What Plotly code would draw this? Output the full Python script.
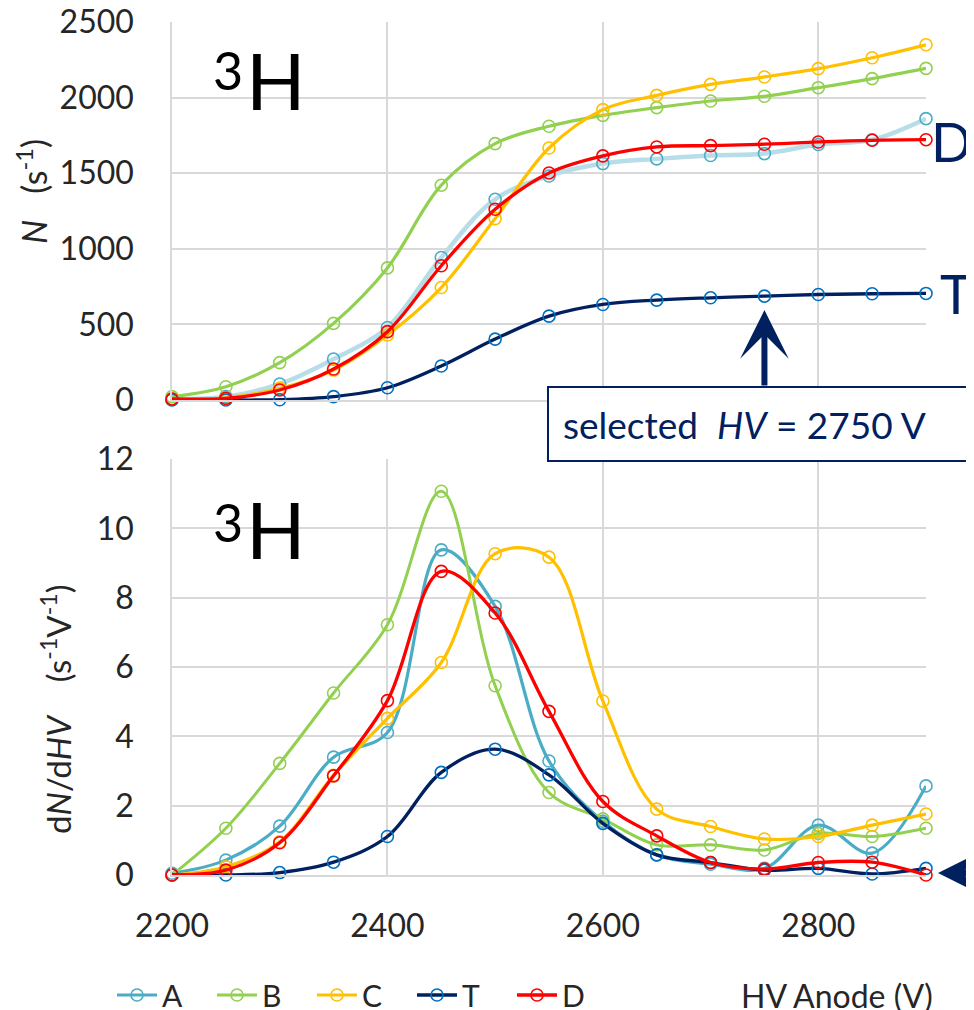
import plotly.graph_objects as go

# ---------------- data ----------------
HV = [2200, 2250, 2300, 2350, 2400, 2450, 2500, 2550, 2600, 2650, 2700, 2750, 2800, 2850, 2900]

N_A = [7, 22, 106, 271, 480, 943, 1328, 1482, 1564, 1595, 1617, 1630, 1690, 1722, 1861]
N_B = [22, 88, 247, 507, 874, 1421, 1696, 1811, 1883, 1934, 1978, 2009, 2066, 2126, 2194]
N_C = [7, 15, 77, 198, 430, 744, 1200, 1667, 1921, 2015, 2088, 2137, 2192, 2264, 2350]
N_T = [0, 0, 2, 22, 81, 225, 403, 555, 632, 661, 676, 687, 698, 703, 705]
N_D = [7, 11, 66, 205, 452, 888, 1262, 1502, 1615, 1674, 1683, 1692, 1707, 1718, 1722]

dN_A = [0.05, 0.43, 1.41, 3.40, 4.11, 9.38, 7.75, 3.29, 1.55, 0.58, 0.31, 0.19, 1.44, 0.63, 2.57]
dN_B = [0.0, 1.35, 3.22, 5.25, 7.22, 11.07, 5.46, 2.38, 1.62, 0.87, 0.87, 0.72, 1.20, 1.11, 1.35]
dN_C = [0.0, 0.24, 0.96, 2.88, 4.52, 6.13, 9.27, 9.17, 5.02, 1.90, 1.40, 1.04, 1.11, 1.44, 1.76]
dN_T = [0.0, 0.0, 0.07, 0.37, 1.11, 2.96, 3.63, 2.89, 1.49, 0.58, 0.36, 0.14, 0.19, 0.03, 0.19]
dN_D = [0.0, 0.14, 0.93, 2.86, 5.03, 8.76, 7.56, 4.72, 2.12, 1.13, 0.36, 0.17, 0.36, 0.37, 0.0]

SERIES = ["A", "B", "C", "T", "D"]
SELECTED_HV = 2750

# ---------------- styles ----------------
LINE_TOP = {"A": "#B7DEE8", "B": "#92D050", "C": "#FFC000", "T": "#002060", "D": "#FF0000"}
LINE_BOT = {"A": "#4BACC6", "B": "#92D050", "C": "#FFC000", "T": "#002060", "D": "#FF0000"}
MARK = {"A": "#4BACC6", "B": "#92D050", "C": "#FFC000", "T": "#0070C0", "D": "#FF0000"}
WIDTH_TOP = {"A": 4.5, "B": 3.2, "C": 3.2, "T": 3.3, "D": 3.3}
WIDTH_BOT = {"A": 3.2, "B": 3.0, "C": 3.2, "T": 3.3, "D": 3.3}

top_vals = {"A": N_A, "B": N_B, "C": N_C, "T": N_T, "D": N_D}
bot_vals = {"A": dN_A, "B": dN_B, "C": dN_C, "T": dN_T, "D": dN_D}

OFF = 8                       # default page body margin
W, H = 974 - OFF, 1010 - OFF
L, R, T, B = 172 - OFF, 48, 22 - OFF, 135
PW, PH = W - L - R, H - T - B
NAVY = "#002060"
FONT = "Lato"
TXT = "#262626"
GRID = "#D9D9D9"
NB = "\u00a0"


def px(xp):  # screen x -> paper
    return (xp - OFF - L) / PW


def py(yp):  # screen y -> paper
    return (H - B - (yp - OFF)) / PH


fig = go.Figure()

for s in SERIES:
    fig.add_trace(go.Scatter(
        x=HV, y=top_vals[s], name=s, mode="lines+markers",
        line=dict(color=LINE_TOP[s], width=WIDTH_TOP[s], shape="spline", smoothing=1.0),
        marker=dict(symbol="circle-open", size=12, color=MARK[s], line=dict(width=1.6, color=MARK[s])),
        xaxis="x", yaxis="y", showlegend=False, cliponaxis=False))

for s in SERIES:
    fig.add_trace(go.Scatter(
        x=HV, y=bot_vals[s], name=s, mode="lines+markers",
        line=dict(color=LINE_BOT[s], width=WIDTH_BOT[s], shape="spline", smoothing=1.0),
        marker=dict(symbol="circle-open", size=12, color=MARK[s], line=dict(width=1.6, color=MARK[s])),
        xaxis="x2", yaxis="y2", showlegend=True, cliponaxis=False))

top_bottom = py(400)
bot_top = py(459)

axis_common = dict(showgrid=True, gridcolor=GRID, gridwidth=1.5, zeroline=False,
                   showline=True, linecolor=GRID, linewidth=1.5, ticks="", automargin=False,
                   ticklabeloverflow="allow",
                   tickfont=dict(family=FONT, size=32, color=TXT))

fig.update_layout(
    width=W, height=H, plot_bgcolor="white", paper_bgcolor="white",
    margin=dict(l=L, r=R, t=T, b=B, autoexpand=False),
    font=dict(family=FONT, color=TXT),
    xaxis=dict(domain=[0, 1], range=[2200, 2900], dtick=200, tick0=2200, anchor="y",
               showticklabels=False, **axis_common),
    yaxis=dict(domain=[top_bottom, 1], range=[0, 2500.5], dtick=500, tick0=0, anchor="x",
               ticklabelstandoff=30, **axis_common),
    xaxis2=dict(domain=[0, 1], range=[2200, 2900], dtick=200, tick0=2200, anchor="y2",
                ticklabelstandoff=22, **axis_common),
    yaxis2=dict(domain=[0, bot_top], range=[0, 12.002], dtick=2, tick0=0, anchor="x2",
                ticklabelstandoff=30, **axis_common),
    legend=dict(orientation="h", x=px(112), y=py(995), xanchor="left", yanchor="middle",
                font=dict(family=FONT, size=30, color=TXT), bgcolor="rgba(0,0,0,0)",
                entrywidth=45, entrywidthmode="pixels", itemwidth=40, tracegroupgap=0),
    showlegend=True,
)

# white patches behind the 3H labels (over grid, under curves)
shapes = []
for y0, y1 in ((36, 140), (472, 606)):
    shapes.append(dict(type="rect", xref="paper", yref="paper", x0=px(195), x1=px(318),
                       y0=py(y1), y1=py(y0), fillcolor="white", line=dict(width=0),
                       layer="between"))

ann = []
# 3H labels
for y3, yh in ((70, 80), (522, 529)):
    ann.append(dict(text="H", xref="paper", yref="paper", x=px(244), y=py(yh),
                    xanchor="left", yanchor="middle", showarrow=False,
                    font=dict(family=FONT, size=78, color="black")))
    ann.append(dict(text="3", xref="paper", yref="paper", x=px(228), y=py(y3),
                    xanchor="center", yanchor="middle", showarrow=False,
                    font=dict(family=FONT, size=52, color="black")))
# axis titles
ann.append(dict(text="<i>N</i>" + NB * 3 + "(s<sup>-1</sup>)", xref="paper", yref="paper",
                x=px(32), y=py(192), textangle=-90, showarrow=False, xanchor="center",
                yanchor="middle", font=dict(family=FONT, size=34, color=TXT)))
ann.append(dict(text="d<i>N</i>/d<i>HV</i>" + NB * 4 + "(s<sup>-1</sup>V<sup>-1</sup>)", xref="paper",
                yref="paper", x=px(56), y=py(710), textangle=-90, showarrow=False,
                xanchor="center", yanchor="middle", font=dict(family=FONT, size=33, color=TXT)))
# x-axis title
ann.append(dict(text="HV Anode (V)", xref="paper", yref="paper", x=px(935), y=py(995),
                xanchor="right", yanchor="middle", showarrow=False,
                font=dict(family=FONT, size=32, color=TXT)))
# D and T labels
ann.append(dict(text="D", xref="paper", yref="paper", x=px(974), y=py(142), xanchor="right",
                yanchor="middle", showarrow=False, font=dict(family=FONT, size=54, color=NAVY)))
ann.append(dict(text="T", xref="paper", yref="paper", x=px(974), y=py(293), xanchor="right",
                yanchor="middle", showarrow=False, font=dict(family=FONT, size=54, color=NAVY)))
# selected HV box
ann.append(dict(text="selected" + NB * 2 + "<i>HV</i> = %d V" % SELECTED_HV, xref="paper", yref="paper",
                x=px(547), y=py(424), xanchor="left", yanchor="middle", showarrow=False,
                align="left", width=394, height=44, borderpad=14, bordercolor=NAVY, borderwidth=2,
                bgcolor="white", font=dict(family=FONT, size=37, color=NAVY)))
# arrow to selected point
ann.append(dict(text="", x=SELECTED_HV, y=595, xref="x", yref="y", ax=SELECTED_HV, ay=86,
                axref="x", ayref="y", showarrow=True, arrowhead=3, arrowsize=1.35, arrowwidth=6,
                arrowcolor=NAVY))
# arrow at bottom right
ann.append(dict(text="", x=px(938), y=py(873), xref="paper", yref="paper", ax=90, ay=0,
                showarrow=True, arrowhead=3, arrowsize=1.35, arrowwidth=6, arrowcolor=NAVY))

fig.update_layout(annotations=ann, shapes=shapes)
fig.write_html("out.html")
